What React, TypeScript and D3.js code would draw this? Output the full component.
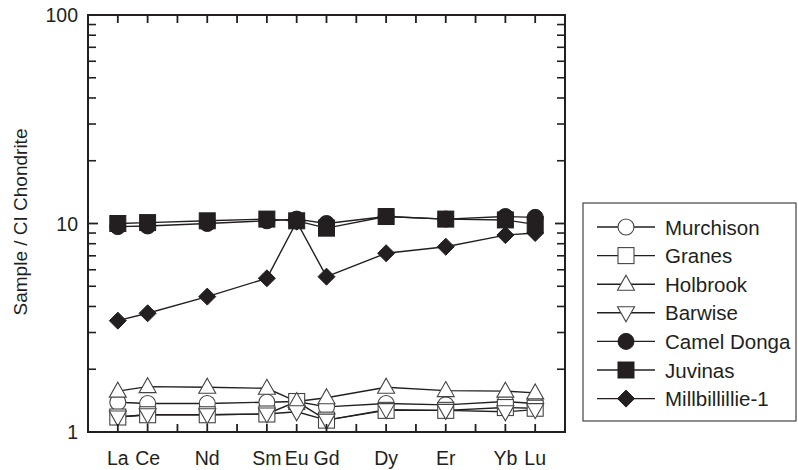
import React from "react";
import * as d3 from "d3";

const elements = ["La", "Ce", "Pr", "Nd", "Pm", "Sm", "Eu", "Gd", "Tb", "Dy", "Ho", "Er", "Tm", "Yb", "Lu"];
const measured = ["La", "Ce", "Nd", "Sm", "Eu", "Gd", "Dy", "Er", "Yb", "Lu"];
const yTickValues = [1, 10, 100];

const murchison = [1.39, 1.37, 1.37, 1.39, 1.4, 1.32, 1.37, 1.35, 1.4, 1.37];
const granes = [1.18, 1.21, 1.21, 1.22, 1.4, 1.14, 1.27, 1.27, 1.31, 1.3];
const holbrook = [1.57, 1.65, 1.64, 1.62, 1.4, 1.46, 1.64, 1.58, 1.57, 1.54];
const barwise = [1.18, 1.21, 1.21, 1.22, 1.25, 1.14, 1.28, 1.27, 1.25, 1.28];
const camelDonga = [9.66, 9.73, 10.0, 10.3, 10.5, 10.0, 10.8, 10.5, 10.8, 10.7];
const juvinas = [10.0, 10.1, 10.3, 10.5, 10.3, 9.5, 10.8, 10.5, 10.4, 9.9];
const millbillillie = [3.42, 3.71, 4.46, 5.46, 10.2, 5.56, 7.2, 7.74, 8.8, 9.0];

const seriesNames = ["Murchison", "Granes", "Holbrook", "Barwise", "Camel Donga", "Juvinas", "Millbillillie-1"];
const seriesValues = [murchison, granes, holbrook, barwise, camelDonga, juvinas, millbillillie];
const seriesShapes = ["circle", "square", "triUp", "triDown", "circle", "square", "diamond"];
const seriesFilled = [false, false, false, false, true, true, true];

const W = 798, H = 470;
const left = 88, right = 565, top = 15, bottom = 432;
const FONT = "Liberation Sans, Arial, Helvetica, sans-serif";

const x = d3.scaleLinear().domain([-1, elements.length]).range([left, right]);
const y = d3.scaleLog().domain([1, 100]).range([bottom, top]);

function Marker({ shape, cx, cy, filled }: { shape: string; cx: number; cy: number; filled: boolean }) {
  const fill = filled ? "#231f20" : "#fff";
  const stroke = filled ? "#231f20" : "#444";
  const sw = filled ? 1 : 1.1;
  const s = 8;
  if (shape === "circle") return <circle cx={cx} cy={cy} r={s} fill={fill} stroke={stroke} strokeWidth={sw} />;
  if (shape === "square") return <rect x={cx - s} y={cy - s} width={2 * s} height={2 * s} fill={fill} stroke={stroke} strokeWidth={sw} />;
  if (shape === "diamond") {
    const d = 8.5;
    return <polygon points={`${cx},${cy - d} ${cx + d},${cy} ${cx},${cy + d} ${cx - d},${cy}`} fill={fill} stroke={stroke} strokeWidth={sw} />;
  }
  if (shape === "triUp") {
    const p = `${cx},${cy - 9} ${cx + 8.5},${cy + 6} ${cx - 8.5},${cy + 6}`;
    return <polygon points={p} fill={fill} stroke={stroke} strokeWidth={sw} />;
  }
  const p = `${cx},${cy + 9} ${cx + 8.5},${cy - 6} ${cx - 8.5},${cy - 6}`;
  return <polygon points={p} fill={fill} stroke={stroke} strokeWidth={sw} />;
}

export default function App() {
  const line = d3
    .line<[number, number]>()
    .x((d) => d[0])
    .y((d) => d[1]);

  const minorTicks: number[] = [];
  for (const dec of [1, 10]) for (let k = 2; k <= 9; k++) minorTicks.push(dec * k);

  const legendTop = 227;
  const legendStep = 28.6;

  return (
    <svg width={W} height={H} style={{ position: "absolute", left: 0, top: 0, background: "#fff" }} fontFamily={FONT}>
      <rect x={0} y={0} width={W} height={H} fill="#fff" />
      {seriesValues.map((vals, si) => {
        const pts = vals.map((v, i) => [x(elements.indexOf(measured[i])), y(v)] as [number, number]);
        return <path key={"l" + si} d={line(pts) || ""} fill="none" stroke="#231f20" strokeWidth={1.4} />;
      })}
      {seriesValues.map((vals, si) => (
        <g key={"m" + si}>
          {vals.map((v, i) => (
            <Marker key={i} shape={seriesShapes[si]} cx={x(elements.indexOf(measured[i]))} cy={y(v)} filled={seriesFilled[si]} />
          ))}
        </g>
      ))}
      <rect x={left} y={top} width={right - left} height={bottom - top} fill="none" stroke="#231f20" strokeWidth={2} />
      {elements.map((e, i) => (
        <g key={"xt" + e}>
          <line x1={x(i)} x2={x(i)} y1={bottom} y2={bottom - 8} stroke="#231f20" strokeWidth={1.8} />
          <line x1={x(i)} x2={x(i)} y1={top} y2={top + 8} stroke="#231f20" strokeWidth={1.8} />
        </g>
      ))}
      {measured.map((e) => (
        <text key={"xl" + e} x={x(elements.indexOf(e))} y={458} textAnchor="middle" dominantBaseline="central" fontSize={19.5} fill="#231f20">
          {e}
        </text>
      ))}
      {yTickValues.map((v) => (
        <g key={"yt" + v}>
          <line x1={left} x2={left + 10} y1={y(v)} y2={y(v)} stroke="#231f20" strokeWidth={1.8} />
          <line x1={right} x2={right - 10} y1={y(v)} y2={y(v)} stroke="#231f20" strokeWidth={1.8} />
          <text x={78} y={y(v)} textAnchor="end" dominantBaseline="central" fontSize={19.5} fill="#231f20">
            {v}
          </text>
        </g>
      ))}
      {minorTicks.map((v) => (
        <g key={"ym" + v}>
          <line x1={left} x2={left + 8} y1={y(v)} y2={y(v)} stroke="#231f20" strokeWidth={1.6} />
          <line x1={right} x2={right - 8} y1={y(v)} y2={y(v)} stroke="#231f20" strokeWidth={1.6} />
        </g>
      ))}
      <text
        transform={`translate(20,222) rotate(-90)`}
        textAnchor="middle"
        dominantBaseline="central"
        fontSize={19}
        fill="#231f20"
      >
        Sample / CI Chondrite
      </text>
      <rect x={583} y={203} width={213} height={218} fill="#fff" stroke="#444" strokeWidth={1.2} />
      {seriesNames.map((n, si) => {
        const ly = legendTop + si * legendStep;
        return (
          <g key={"lg" + n}>
            <line x1={597} x2={655} y1={ly} y2={ly} stroke="#231f20" strokeWidth={1.4} />
            <Marker shape={seriesShapes[si]} cx={626} cy={ly} filled={seriesFilled[si]} />
            <text x={665} y={ly} dominantBaseline="central" fontSize={20.5} fill="#231f20">
              {n}
            </text>
          </g>
        );
      })}
    </svg>
  );
}
